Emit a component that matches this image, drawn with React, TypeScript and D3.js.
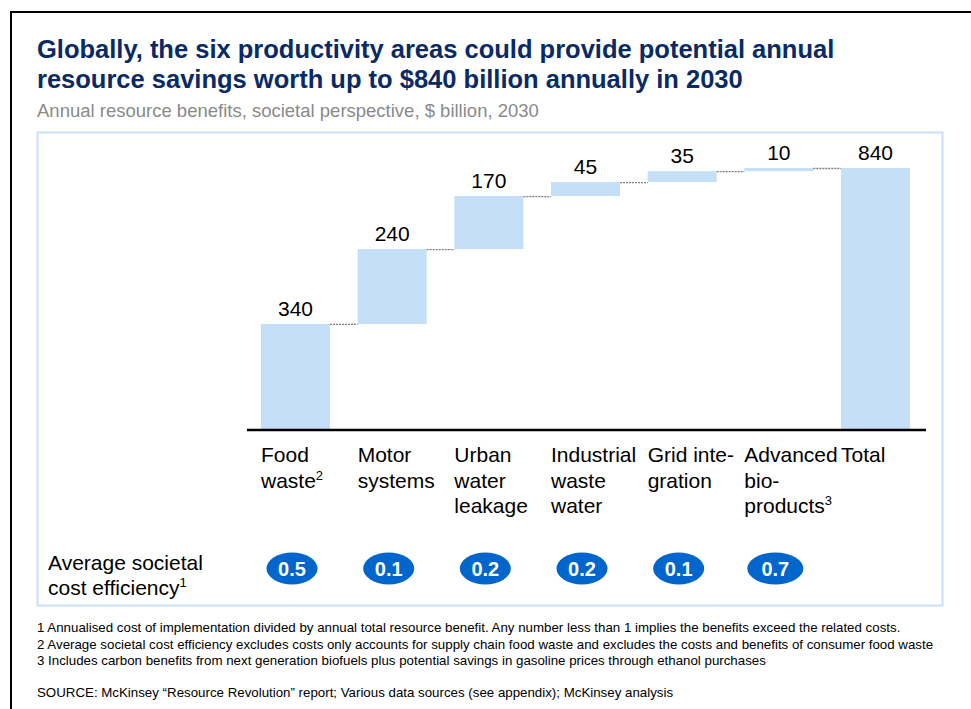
import React from "react";
import * as d3 from "d3";

const categoryLines: string[][] = [
  ["Food", "waste"],
  ["Motor", "systems"],
  ["Urban", "water", "leakage"],
  ["Industrial", "waste", "water"],
  ["Grid inte-", "gration"],
  ["Advanced", "bio-", "products"],
  ["Total"],
];
const categorySup: string[] = ["2", "", "", "", "", "3", ""];
const values: number[] = [340, 240, 170, 45, 35, 10];
const totalValue = 840;
const efficiency: string[] = ["0.5", "0.1", "0.2", "0.2", "0.1", "0.7"];
const footnotes: string[] = [
  "1 Annualised cost of implementation divided by annual total resource benefit. Any number less than 1 implies the benefits exceed the related costs.",
  "2 Average societal cost efficiency excludes costs only accounts for supply chain food waste and excludes the costs and benefits of consumer food waste",
  "3 Includes carbon benefits from next generation biofuels plus potential savings in gasoline prices through ethanol purchases",
];
const sourceText =
  "SOURCE: McKinsey \u201CResource Revolution\u201D report; Various data sources (see appendix); McKinsey analysis";

const FONT = "'Liberation Sans', Arial, Helvetica, sans-serif";

export default function App() {
  const W = 971;
  const H = 709;
  const idx = d3.range(categoryLines.length).map(String);
  const x = d3.scaleBand<string>().domain(idx).range([261, 910]).paddingInner(0.286).paddingOuter(0);
  const y = d3.scaleLinear().domain([0, 840]).range([430, 168]);

  const cum = d3.cumsum(values);
  const segs = values.map((v, i) => ({
    start: i === 0 ? 0 : cum[i - 1],
    end: cum[i],
    value: v,
  }));
  segs.push({ start: 0, end: totalValue, value: totalValue });

  const bw = x.bandwidth();

  return (
    <svg
      width={W}
      height={H}
      style={{ position: "absolute", left: 0, top: 0, background: "#fff" }}
      fontFamily={FONT}
    >
      <rect x={0} y={0} width={W} height={H} fill="#fff" />
      <path d={`M11,${H + 5} L11,12 L${W + 5},12`} fill="none" stroke="#000" strokeWidth={2} />
      <text x={37} y={58} fontSize={25.5} fontWeight="bold" fill="#0A2A66">
        Globally, the six productivity areas could provide potential annual
      </text>
      <text x={37} y={88} fontSize={25.5} fontWeight="bold" fill="#0A2A66">
        resource savings worth up to $840 billion annually in 2030
      </text>
      <text x={37} y={117} fontSize={18.5} fill="#8A8A8A">
        Annual resource benefits, societal perspective, $ billion, 2030
      </text>
      <rect x={37.5} y={132.5} width={905} height={473} fill="none" stroke="#C9E0F8" strokeWidth={2} />

      {segs.map((s, i) => (
        <rect
          key={"b" + i}
          x={x(String(i))!}
          y={y(s.end)}
          width={bw}
          height={Math.max(y(s.start) - y(s.end), 1)}
          fill="#C6DFF8"
        />
      ))}
      {segs.slice(0, -1).map((s, i) => (
        <line
          key={"c" + i}
          x1={x(String(i))! + bw}
          x2={x(String(i + 1))!}
          y1={y(s.end) + 0.5}
          y2={y(s.end) + 0.5}
          stroke="#7F7F7F"
          strokeWidth={1.3}
          strokeDasharray="2,1"
        />
      ))}
      {segs.map((s, i) => (
        <text
          key={"v" + i}
          x={x(String(i))! + bw / 2}
          y={y(s.end) - 8}
          fontSize={21}
          textAnchor="middle"
          fill="#000"
        >
          {s.value}
        </text>
      ))}
      <line x1={247} x2={926} y1={430} y2={430} stroke="#000" strokeWidth={2.5} />

      {categoryLines.map((lines, i) => (
        <text key={"l" + i} x={x(String(i))!} fontSize={21} fill="#000">
          {lines.map((ln, j) => (
            <tspan key={j} x={x(String(i))!} y={462 + j * 25.5}>
              {ln}
              {j === lines.length - 1 && categorySup[i] ? (
                <tspan fontSize={13} dy={-8}>
                  {categorySup[i]}
                </tspan>
              ) : null}
            </tspan>
          ))}
        </text>
      ))}

      <text x={48} y={570} fontSize={21} fill="#000">
        Average societal
      </text>
      <text x={48} y={595} fontSize={21} fill="#000">
        cost efficiency
        <tspan fontSize={13} dy={-8}>
          1
        </tspan>
      </text>
      {efficiency.map((e, i) => {
        const cx = x(String(i))! + bw / 2 - 3.5;
        const rx = e === "0.7" ? 28 : 25.5;
        return (
          <g key={"e" + i}>
            <ellipse cx={cx} cy={568.5} rx={rx} ry={16} fill="#0066CC" />
            <text x={cx} y={575.5} fontSize={20} fontWeight="bold" fill="#fff" textAnchor="middle">
              {e}
            </text>
          </g>
        );
      })}

      {footnotes.map((f, i) => (
        <text key={"f" + i} x={37} y={632 + i * 16.5} fontSize={13.3} fill="#000">
          {f}
        </text>
      ))}
      <text x={37} y={697} fontSize={13.3} fill="#000">
        {sourceText}
      </text>
    </svg>
  );
}
